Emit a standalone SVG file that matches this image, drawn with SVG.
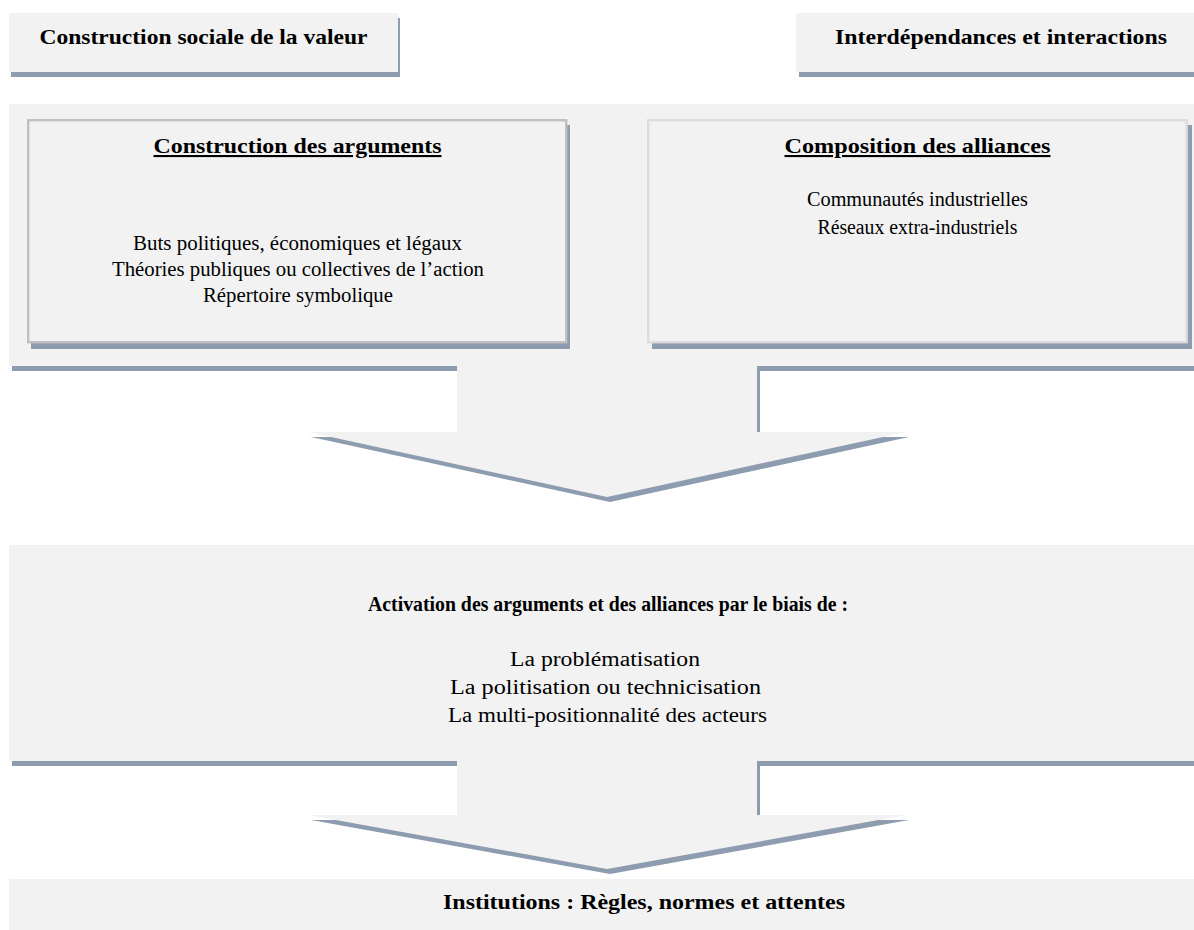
<svg xmlns="http://www.w3.org/2000/svg" width="1194" height="930" viewBox="0 0 1194 930">
<style>
.fill{fill:#f2f2f2}
.shadow{fill:#8e9caf}
.b{font-family:"Liberation Serif","Times New Roman",serif;font-weight:bold;font-size:21px;fill:#000;text-anchor:middle}
.r{font-family:"Liberation Serif","Times New Roman",serif;font-size:20.5px;fill:#000;text-anchor:middle}
.u{text-decoration:underline}
</style>
<rect width="1194" height="930" fill="#ffffff"/>
<g id="connectors">
  <path class="shadow" d="M12,109 H1197 V371 H760 V437 H909 L610,502 L311,437 H460 V371 H12 Z"/>
  <path class="fill" d="M9,104 H1194 V366 H757 V432 H906 L607,497 L308,432 H457 V366 H9 Z"/>
  <path class="shadow" d="M12,550 H1197 V766 H760 V820 H909 L610,874 L311,820 H460 V766 H12 Z"/>
  <path class="fill" d="M9,545 H1194 V761 H757 V815 H906 L607,869 L308,815 H457 V761 H9 Z"/>
</g>
<g id="node-valeur">
  <rect class="shadow" x="11" y="18" width="389" height="59"/>
  <rect class="fill" x="9" y="13" width="389" height="59"/>
  <text class="b" x="203.5" y="44" textLength="328" lengthAdjust="spacingAndGlyphs">Construction sociale de la valeur</text>
</g>
<g id="node-interdependances">
  <rect class="shadow" x="799" y="18" width="400" height="59"/>
  <rect class="fill" x="796" y="13" width="400" height="59"/>
  <text class="b" x="1001" y="44" textLength="332" lengthAdjust="spacingAndGlyphs">Interdépendances et interactions</text>
</g>
<g id="node-arguments">
  <rect class="shadow" x="31" y="125" width="539" height="224"/>
  <rect x="28.2" y="120.2" width="538" height="222" fill="#f2f2f2" stroke="#c0c0c0" stroke-width="2.4"/>
  <text class="b u" x="297.5" y="153" textLength="288" lengthAdjust="spacingAndGlyphs">Construction des arguments</text>
  <text class="r" x="297.5" y="250" textLength="329" lengthAdjust="spacingAndGlyphs">Buts politiques, économiques et légaux</text>
  <text class="r" x="298" y="276" textLength="372" lengthAdjust="spacingAndGlyphs">Théories publiques ou collectives de l’action</text>
  <text class="r" x="298" y="302" textLength="190" lengthAdjust="spacingAndGlyphs">Répertoire symbolique</text>
</g>
<g id="node-alliances">
  <rect class="shadow" x="652" y="125" width="540" height="224"/>
  <rect x="648.2" y="120.2" width="538.5" height="222" fill="#f2f2f2" stroke="#dcdcdc" stroke-width="2.4"/>
  <text class="b u" x="917.5" y="153" textLength="266" lengthAdjust="spacingAndGlyphs">Composition des alliances</text>
  <text class="r" x="917.5" y="206" textLength="221" lengthAdjust="spacingAndGlyphs">Communautés industrielles</text>
  <text class="r" x="917.5" y="234" textLength="200" lengthAdjust="spacingAndGlyphs">Réseaux extra-industriels</text>
</g>
<g id="node-activation">
  <text class="b" x="608" y="611" font-size="19" textLength="480" lengthAdjust="spacingAndGlyphs">Activation des arguments et des alliances par le biais de :</text>
  <text class="r" x="605" y="665.5" font-size="21.5" textLength="190" lengthAdjust="spacingAndGlyphs">La problématisation</text>
  <text class="r" x="605.5" y="693.5" font-size="21.5" textLength="311" lengthAdjust="spacingAndGlyphs">La politisation ou technicisation</text>
  <text class="r" x="607.5" y="721.5" font-size="21.5" textLength="319" lengthAdjust="spacingAndGlyphs">La multi-positionnalité des acteurs</text>
</g>
<g id="node-institutions">
  <rect class="fill" x="9" y="879" width="1185" height="51"/>
  <text class="b" x="644" y="908.5" textLength="402" lengthAdjust="spacingAndGlyphs">Institutions : Règles, normes et attentes</text>
</g>
</svg>
